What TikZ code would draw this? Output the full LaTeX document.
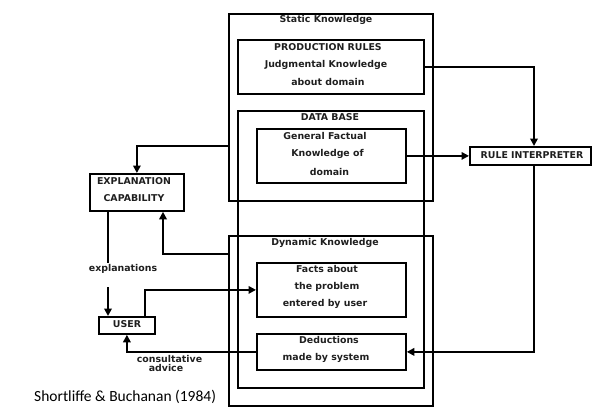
\documentclass[tikz,border=0pt]{standalone}
\usepackage{fontspec}
\newfontfamily\diagfont{DejaVu Sans}
\newfontfamily\creditfont{Carlito}
\usetikzlibrary{arrows.meta}
\begin{document}
\begin{tikzpicture}[x=1pt,y=-1pt,
  box/.style={draw, line width=1.8pt, inner sep=0pt, anchor=north west},
  lbl/.style={font=\diagfont\bfseries\fontsize{9.4}{11}\selectfont, text=black!88, inner sep=0pt},
  wire/.style={line width=1.8pt},
  arr/.style={line width=1.8pt, -{Triangle[length=7.5pt,width=7.5pt]}}]
\useasboundingbox (0,0) rectangle (592,407);

% knowledge base frames
\node[box, minimum width=204pt, minimum height=187pt] (static) at (228,13) {};
\node[box, minimum width=186pt, minimum height=277pt] (db) at (237,110) {};
\node[box, minimum width=204pt, minimum height=170pt] (dyn) at (228,235) {};
\node[box, minimum width=186pt, minimum height=54pt] (prod) at (237,39) {};
\node[box, minimum width=149pt, minimum height=54pt] (gen) at (256,128) {};
\node[box, minimum width=149pt, minimum height=54pt] (facts) at (256,262) {};
\node[box, minimum width=149pt, minimum height=36pt] (ded) at (256,333) {};

% outer components
\node[box, minimum width=121pt, minimum height=18pt] (ri) at (469,146) {};
\node[box, minimum width=94pt, minimum height=37pt] (expl) at (89,173) {};
\node[box, minimum width=56pt, minimum height=17pt] (user) at (98,316) {};

% texts
\node[lbl] (tstatic) at (326,20) {Static Knowledge};
\node[lbl] (tprod1) at (328,47) {PRODUCTION RULES};
\node[lbl] (tprod2) at (326,64.5) {Judgmental Knowledge};
\node[lbl] (tprod3) at (328,82) {about domain};
\node[lbl] (tdb) at (330,117) {DATA BASE};
\node[lbl] (tgen1) at (325,136) {General Factual};
\node[lbl] (tgen2) at (327.5,154) {Knowledge of};
\node[lbl] (tgen3) at (329.5,172) {domain};
\node[lbl] (tdyn) at (325,243) {Dynamic Knowledge};
\node[lbl] (tfacts1) at (327,269) {Facts about};
\node[lbl] (tfacts2) at (327,287) {the problem};
\node[lbl] (tfacts3) at (325,304) {entered by user};
\node[lbl] (tded1) at (329,340) {Deductions};
\node[lbl] (tded2) at (326,358) {made by system};
\node[lbl] (tri) at (532,155) {RULE INTERPRETER};
\node[lbl] (texpl1) at (134,181) {EXPLANATION};
\node[lbl] (texpl2) at (134,198) {CAPABILITY};
\node[lbl] (tuser) at (127,324) {USER};
\node[lbl] (texpls) at (123,269) {explanations};
\node[lbl] (tcons1) at (169.5,359) {consultative};
\node[lbl] (tcons2) at (166,368) {advice};
\node[font=\creditfont\fontsize{15.5}{17}\selectfont, anchor=west, inner sep=0pt] (credit) at (34,397) {Shortliffe \& Buchanan (1984)};

% connectors
\coordinate (ruleX) at (534,0);
\coordinate (stOut) at (0,146);
\coordinate (dynOut) at (0,254);
\coordinate (explUp) at (163,0);
\coordinate (explDownX) at (108,0);
\coordinate (explLabTop) at (108,263);
\coordinate (explLabBot) at (108,287);
\coordinate (userUp) at (145,0);

\draw[arr] (prod.east) -| (ri.north -| ruleX);
\draw[arr] (gen.east) -- (gen.east -| ri.west);
\draw[arr] (ri.south -| ruleX) |- (ded.east);
\draw[arr] (static.west |- stOut) -| (expl.north);
\draw[arr] (dyn.west |- dynOut) -| (expl.south -| explUp);
\draw[wire] (expl.south -| explDownX) -- (explLabTop);
\draw[arr] (explLabBot) -- (user.north -| explDownX);
\draw[arr] (user.north -| userUp) |- (facts.west);
\draw[arr] (ded.west) -| (user.south);
\end{tikzpicture}
\end{document}
